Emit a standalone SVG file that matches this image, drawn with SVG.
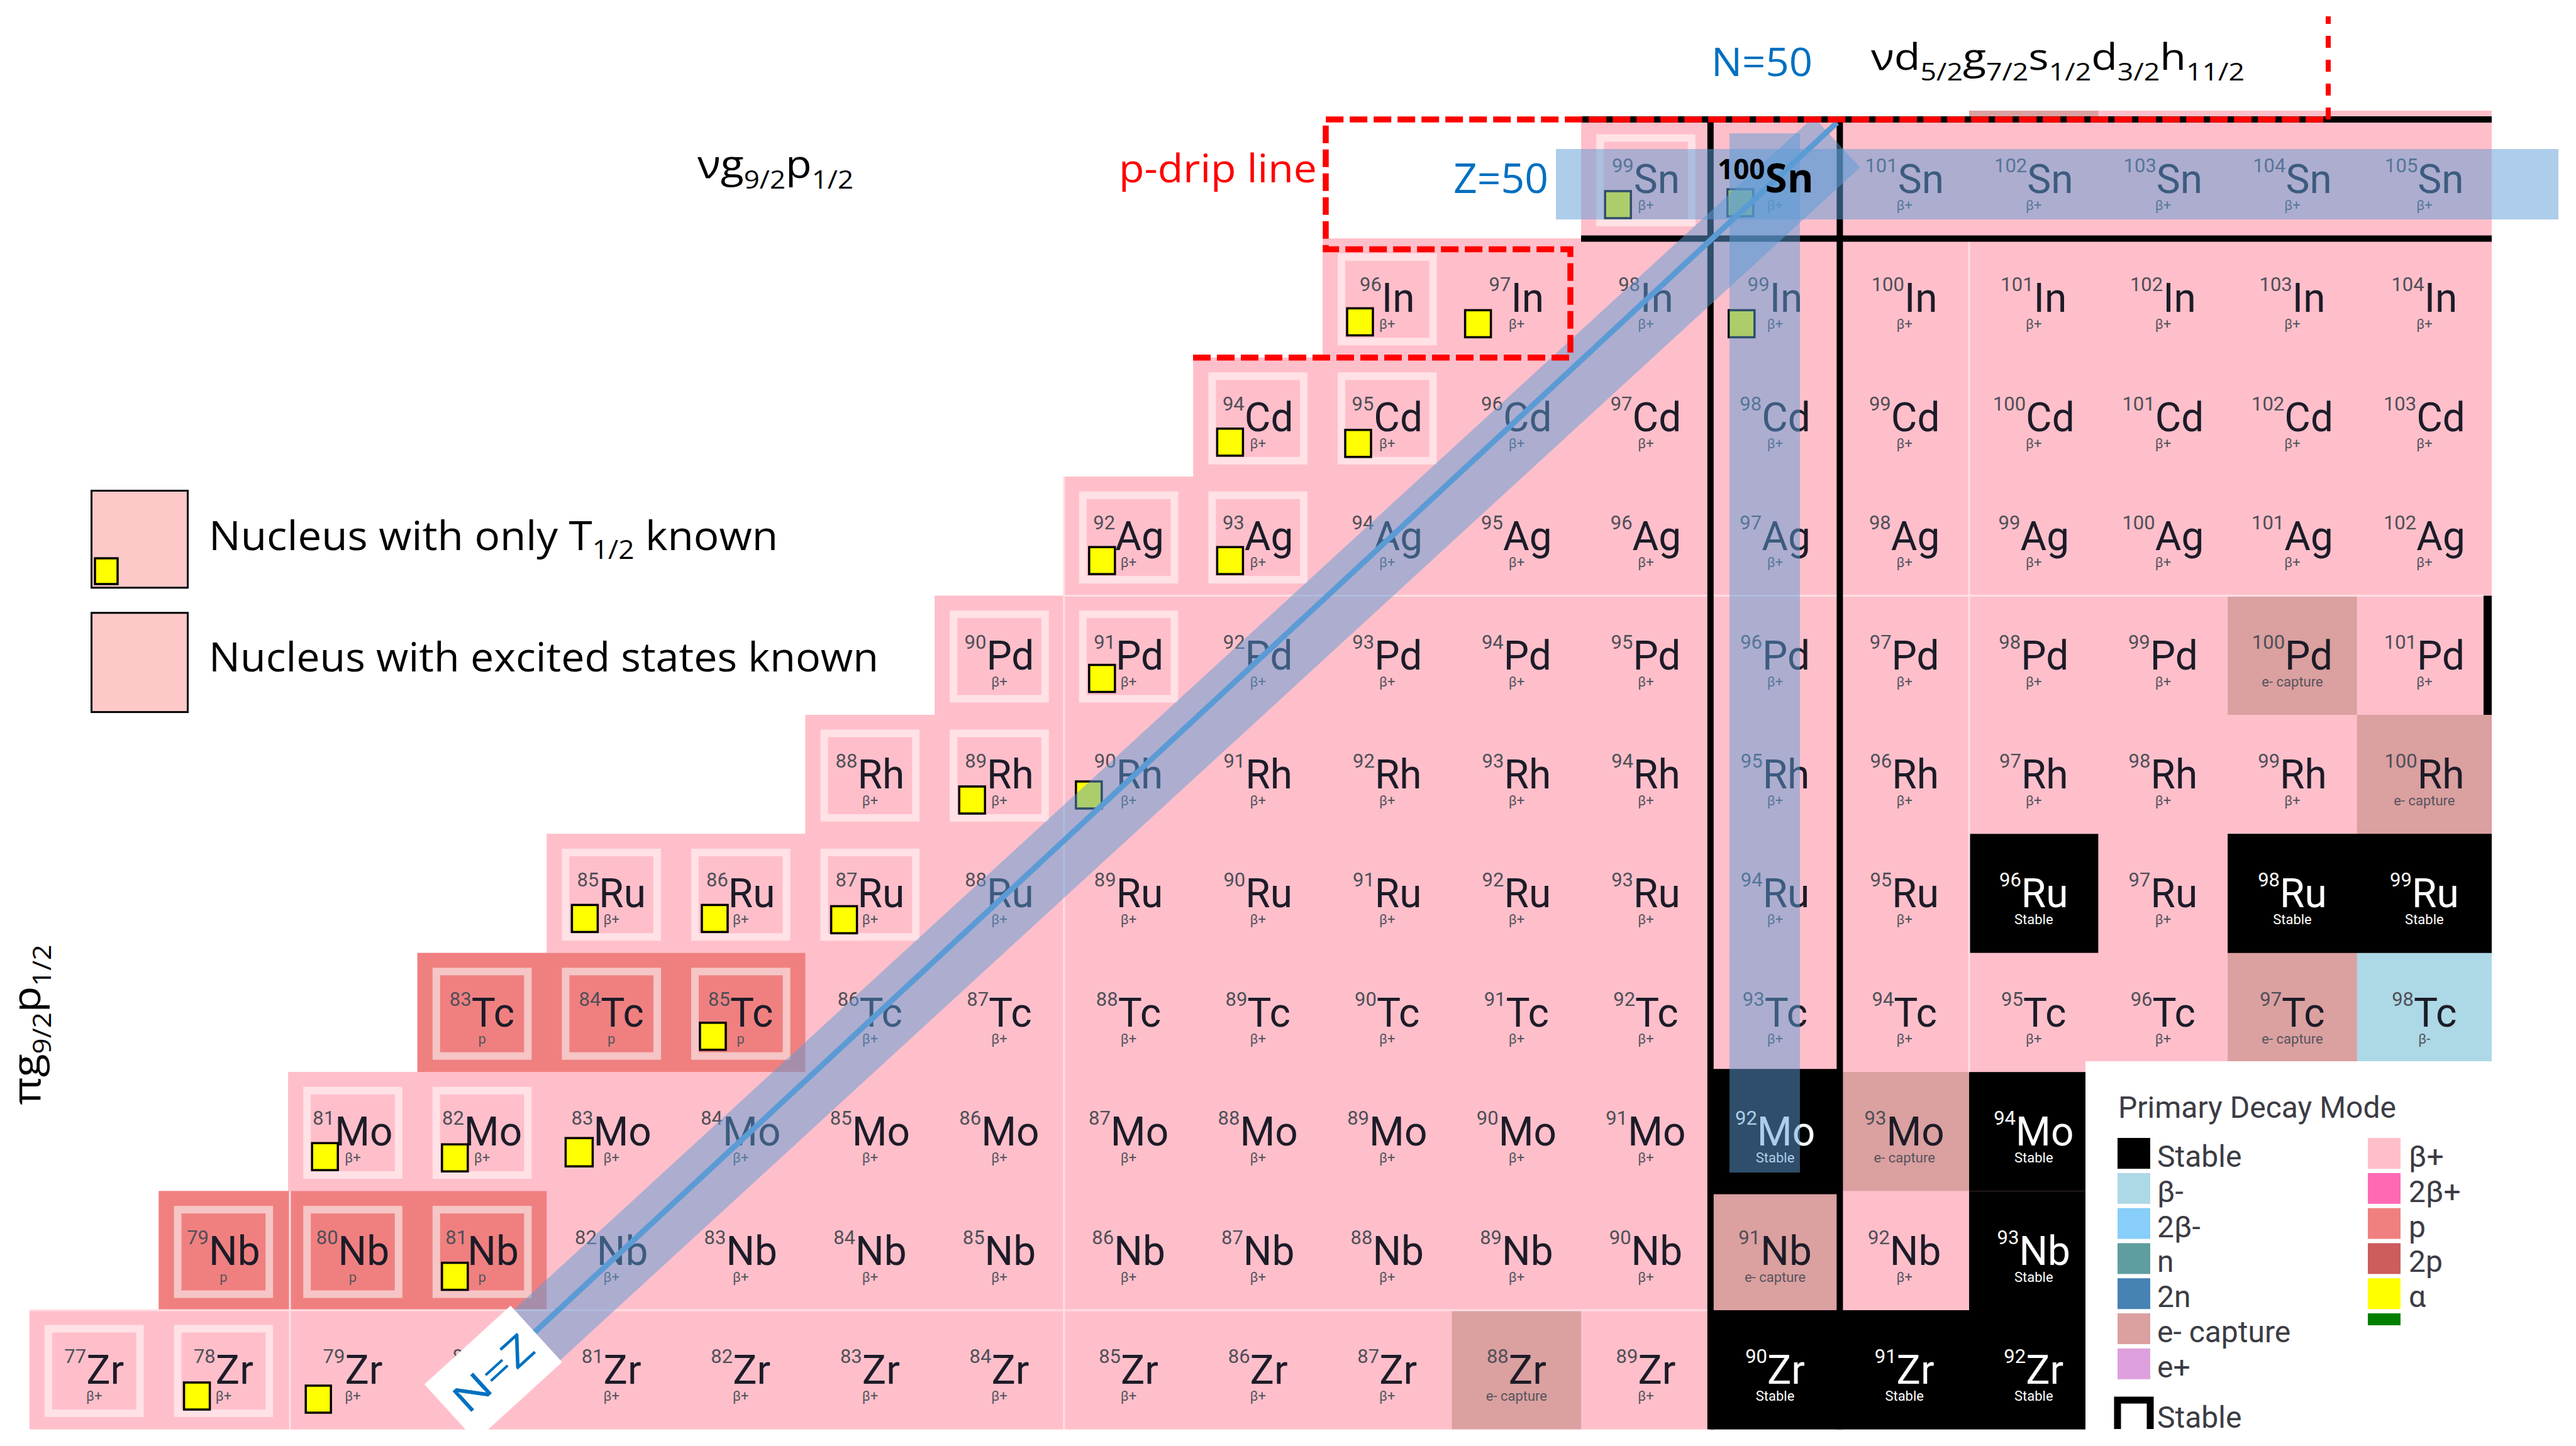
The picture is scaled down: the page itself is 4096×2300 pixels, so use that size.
<svg xmlns="http://www.w3.org/2000/svg" width="4096" height="2300" viewBox="0 0 4096 2300">
<style>
.r{fill:#ffbfca}.ec{fill:#dba0a0}.pp{fill:#f08080}.k{fill:#000}.bm{fill:#add8e6}
.rg{fill:none;stroke:#ffe1e6;stroke-width:12}.rp{fill:none;stroke:#f6c5c5;stroke-width:12}
.s{font-family:Roboto,"Liberation Sans",Arial,sans-serif;font-size:64px;fill:#1c1c28;text-anchor:middle}
.a{font-size:31px;fill:#4f4f58}
.d{font-family:Roboto,"Liberation Sans",Arial,sans-serif;font-size:22px;fill:#55555e;text-anchor:middle}
.w,.w .a{fill:#fff}
.mk{fill:#ff0;stroke:#000;stroke-width:3.5}
.band{fill:#5b9bd5;fill-opacity:.5}
.cal{font-family:"Open Sans","Noto Sans","Liberation Sans",sans-serif}
.seam{stroke:#ffdfe5;stroke-width:3;fill:none}
.bl{stroke:#000;stroke-width:10;fill:none}
.lg{font-family:Roboto,"Liberation Sans",Arial,sans-serif;font-size:48px;fill:#3c3c44}
</style>
<rect width="4096" height="2300" fill="#fff"/>
<g id="rows">
<rect class="r" x="2514.2" y="190" width="1447.8" height="189.8"/>
<rect class="r" x="2103" y="379.4" width="1859" height="189.8"/>
<rect class="r" x="1897.4" y="568.8" width="2064.6" height="189.8"/>
<rect class="r" x="1691.8" y="758.2" width="2270.2" height="189.8"/>
<rect class="r" x="1486.2" y="947.6" width="2475.8" height="189.8"/>
<rect class="r" x="1280.6" y="1137" width="2681.4" height="189.8"/>
<rect class="r" x="869.4" y="1326.4" width="3092.6" height="189.8"/>
<rect class="r" x="663.8" y="1515.8" width="3298.2" height="189.8"/>
<rect class="r" x="458.2" y="1705.2" width="3503.8" height="189.8"/>
<rect class="r" x="252.6" y="1894.6" width="3709.4" height="189.8"/>
<rect class="r" x="47" y="2084" width="3915" height="189.4"/>
<rect class="pp" x="663.8" y="1515.8" width="616.8" height="189.4"/>
<rect class="pp" x="252.6" y="1894.6" width="616.8" height="189.4"/>
<rect class="k" x="2719.8" y="2084" width="616.8" height="189.4"/>
<rect class="k" x="3542.2" y="1326.4" width="419.8" height="189.4"/>
</g>
<g id="cells">
<!-- Sn -->
<g id="Sn99" transform="translate(2514.2 190)"><rect class="r" width="205.6" height="189.4"/><rect class="rg" x="30" y="29.5" width="145.6" height="134.4"/><text class="s" x="102.8" y="117"><tspan class="a" dy="-33">99</tspan><tspan dy="33">Sn</tspan></text><text class="d" x="102.8" y="144">β+</text><rect class="mk" x="38" y="114" width="41" height="43"/></g>
<g id="Sn100" transform="translate(2719.8 190)"><rect class="r" width="205.6" height="189.4"/><text class="d" x="102.8" y="144">β+</text><rect class="mk" x="27" y="111" width="41" height="43"/></g>
<g id="Sn101" transform="translate(2925.4 190)"><rect class="r" width="205.6" height="189.4"/><text class="s" x="102.8" y="117"><tspan class="a" dy="-33">101</tspan><tspan dy="33">Sn</tspan></text><text class="d" x="102.8" y="144">β+</text></g>
<g id="Sn102" transform="translate(3131 190)"><rect class="r" width="205.6" height="189.4"/><text class="s" x="102.8" y="117"><tspan class="a" dy="-33">102</tspan><tspan dy="33">Sn</tspan></text><text class="d" x="102.8" y="144">β+</text></g>
<g id="Sn103" transform="translate(3336.6 190)"><rect class="r" width="205.6" height="189.4"/><text class="s" x="102.8" y="117"><tspan class="a" dy="-33">103</tspan><tspan dy="33">Sn</tspan></text><text class="d" x="102.8" y="144">β+</text></g>
<g id="Sn104" transform="translate(3542.2 190)"><rect class="r" width="205.6" height="189.4"/><text class="s" x="102.8" y="117"><tspan class="a" dy="-33">104</tspan><tspan dy="33">Sn</tspan></text><text class="d" x="102.8" y="144">β+</text></g>
<g id="Sn105" transform="translate(3747.8 190)"><rect class="r" width="214.2" height="189.4"/><text class="s" x="107.1" y="117"><tspan class="a" dy="-33">105</tspan><tspan dy="33">Sn</tspan></text><text class="d" x="107.1" y="144">β+</text></g>
<!-- In -->
<g id="In96" transform="translate(2103 379.4)"><rect class="r" width="205.6" height="189.4"/><rect class="rg" x="30" y="29.5" width="145.6" height="134.4"/><text class="s" x="102.8" y="117"><tspan class="a" dy="-33">96</tspan><tspan dy="33">In</tspan></text><text class="d" x="102.8" y="144">β+</text><rect class="mk" x="39" y="111" width="41" height="43"/></g>
<g id="In97" transform="translate(2308.6 379.4)"><rect class="r" width="205.6" height="189.4"/><text class="s" x="102.8" y="117"><tspan class="a" dy="-33">97</tspan><tspan dy="33">In</tspan></text><text class="d" x="102.8" y="144">β+</text><rect class="mk" x="21" y="114" width="41" height="43"/></g>
<g id="In98" transform="translate(2514.2 379.4)"><rect class="r" width="205.6" height="189.4"/><text class="s" x="102.8" y="117"><tspan class="a" dy="-33">98</tspan><tspan dy="33">In</tspan></text><text class="d" x="102.8" y="144">β+</text></g>
<g id="In99" transform="translate(2719.8 379.4)"><rect class="r" width="205.6" height="189.4"/><text class="s" x="102.8" y="117"><tspan class="a" dy="-33">99</tspan><tspan dy="33">In</tspan></text><text class="d" x="102.8" y="144">β+</text><rect class="mk" x="29" y="114" width="41" height="43"/></g>
<g id="In100" transform="translate(2925.4 379.4)"><rect class="r" width="205.6" height="189.4"/><text class="s" x="102.8" y="117"><tspan class="a" dy="-33">100</tspan><tspan dy="33">In</tspan></text><text class="d" x="102.8" y="144">β+</text></g>
<g id="In101" transform="translate(3131 379.4)"><rect class="r" width="205.6" height="189.4"/><text class="s" x="102.8" y="117"><tspan class="a" dy="-33">101</tspan><tspan dy="33">In</tspan></text><text class="d" x="102.8" y="144">β+</text></g>
<g id="In102" transform="translate(3336.6 379.4)"><rect class="r" width="205.6" height="189.4"/><text class="s" x="102.8" y="117"><tspan class="a" dy="-33">102</tspan><tspan dy="33">In</tspan></text><text class="d" x="102.8" y="144">β+</text></g>
<g id="In103" transform="translate(3542.2 379.4)"><rect class="r" width="205.6" height="189.4"/><text class="s" x="102.8" y="117"><tspan class="a" dy="-33">103</tspan><tspan dy="33">In</tspan></text><text class="d" x="102.8" y="144">β+</text></g>
<g id="In104" transform="translate(3747.8 379.4)"><rect class="r" width="214.2" height="189.4"/><text class="s" x="107.1" y="117"><tspan class="a" dy="-33">104</tspan><tspan dy="33">In</tspan></text><text class="d" x="107.1" y="144">β+</text></g>
<!-- Cd -->
<g id="Cd94" transform="translate(1897.4 568.8)"><rect class="r" width="205.6" height="189.4"/><rect class="rg" x="30" y="29.5" width="145.6" height="134.4"/><text class="s" x="102.8" y="117"><tspan class="a" dy="-33">94</tspan><tspan dy="33">Cd</tspan></text><text class="d" x="102.8" y="144">β+</text><rect class="mk" x="38" y="113" width="41" height="43"/></g>
<g id="Cd95" transform="translate(2103 568.8)"><rect class="r" width="205.6" height="189.4"/><rect class="rg" x="30" y="29.5" width="145.6" height="134.4"/><text class="s" x="102.8" y="117"><tspan class="a" dy="-33">95</tspan><tspan dy="33">Cd</tspan></text><text class="d" x="102.8" y="144">β+</text><rect class="mk" x="36" y="115" width="41" height="43"/></g>
<g id="Cd96" transform="translate(2308.6 568.8)"><rect class="r" width="205.6" height="189.4"/><text class="s" x="102.8" y="117"><tspan class="a" dy="-33">96</tspan><tspan dy="33">Cd</tspan></text><text class="d" x="102.8" y="144">β+</text></g>
<g id="Cd97" transform="translate(2514.2 568.8)"><rect class="r" width="205.6" height="189.4"/><text class="s" x="102.8" y="117"><tspan class="a" dy="-33">97</tspan><tspan dy="33">Cd</tspan></text><text class="d" x="102.8" y="144">β+</text></g>
<g id="Cd98" transform="translate(2719.8 568.8)"><rect class="r" width="205.6" height="189.4"/><text class="s" x="102.8" y="117"><tspan class="a" dy="-33">98</tspan><tspan dy="33">Cd</tspan></text><text class="d" x="102.8" y="144">β+</text></g>
<g id="Cd99" transform="translate(2925.4 568.8)"><rect class="r" width="205.6" height="189.4"/><text class="s" x="102.8" y="117"><tspan class="a" dy="-33">99</tspan><tspan dy="33">Cd</tspan></text><text class="d" x="102.8" y="144">β+</text></g>
<g id="Cd100" transform="translate(3131 568.8)"><rect class="r" width="205.6" height="189.4"/><text class="s" x="102.8" y="117"><tspan class="a" dy="-33">100</tspan><tspan dy="33">Cd</tspan></text><text class="d" x="102.8" y="144">β+</text></g>
<g id="Cd101" transform="translate(3336.6 568.8)"><rect class="r" width="205.6" height="189.4"/><text class="s" x="102.8" y="117"><tspan class="a" dy="-33">101</tspan><tspan dy="33">Cd</tspan></text><text class="d" x="102.8" y="144">β+</text></g>
<g id="Cd102" transform="translate(3542.2 568.8)"><rect class="r" width="205.6" height="189.4"/><text class="s" x="102.8" y="117"><tspan class="a" dy="-33">102</tspan><tspan dy="33">Cd</tspan></text><text class="d" x="102.8" y="144">β+</text></g>
<g id="Cd103" transform="translate(3747.8 568.8)"><rect class="r" width="214.2" height="189.4"/><text class="s" x="107.1" y="117"><tspan class="a" dy="-33">103</tspan><tspan dy="33">Cd</tspan></text><text class="d" x="107.1" y="144">β+</text></g>
<!-- Ag -->
<g id="Ag92" transform="translate(1691.8 758.2)"><rect class="r" width="205.6" height="189.4"/><rect class="rg" x="30" y="29.5" width="145.6" height="134.4"/><text class="s" x="102.8" y="117"><tspan class="a" dy="-33">92</tspan><tspan dy="33">Ag</tspan></text><text class="d" x="102.8" y="144">β+</text><rect class="mk" x="40" y="112" width="41" height="43"/></g>
<g id="Ag93" transform="translate(1897.4 758.2)"><rect class="r" width="205.6" height="189.4"/><rect class="rg" x="30" y="29.5" width="145.6" height="134.4"/><text class="s" x="102.8" y="117"><tspan class="a" dy="-33">93</tspan><tspan dy="33">Ag</tspan></text><text class="d" x="102.8" y="144">β+</text><rect class="mk" x="38" y="112" width="41" height="43"/></g>
<g id="Ag94" transform="translate(2103 758.2)"><rect class="r" width="205.6" height="189.4"/><text class="s" x="102.8" y="117"><tspan class="a" dy="-33">94</tspan><tspan dy="33">Ag</tspan></text><text class="d" x="102.8" y="144">β+</text></g>
<g id="Ag95" transform="translate(2308.6 758.2)"><rect class="r" width="205.6" height="189.4"/><text class="s" x="102.8" y="117"><tspan class="a" dy="-33">95</tspan><tspan dy="33">Ag</tspan></text><text class="d" x="102.8" y="144">β+</text></g>
<g id="Ag96" transform="translate(2514.2 758.2)"><rect class="r" width="205.6" height="189.4"/><text class="s" x="102.8" y="117"><tspan class="a" dy="-33">96</tspan><tspan dy="33">Ag</tspan></text><text class="d" x="102.8" y="144">β+</text></g>
<g id="Ag97" transform="translate(2719.8 758.2)"><rect class="r" width="205.6" height="189.4"/><text class="s" x="102.8" y="117"><tspan class="a" dy="-33">97</tspan><tspan dy="33">Ag</tspan></text><text class="d" x="102.8" y="144">β+</text></g>
<g id="Ag98" transform="translate(2925.4 758.2)"><rect class="r" width="205.6" height="189.4"/><text class="s" x="102.8" y="117"><tspan class="a" dy="-33">98</tspan><tspan dy="33">Ag</tspan></text><text class="d" x="102.8" y="144">β+</text></g>
<g id="Ag99" transform="translate(3131 758.2)"><rect class="r" width="205.6" height="189.4"/><text class="s" x="102.8" y="117"><tspan class="a" dy="-33">99</tspan><tspan dy="33">Ag</tspan></text><text class="d" x="102.8" y="144">β+</text></g>
<g id="Ag100" transform="translate(3336.6 758.2)"><rect class="r" width="205.6" height="189.4"/><text class="s" x="102.8" y="117"><tspan class="a" dy="-33">100</tspan><tspan dy="33">Ag</tspan></text><text class="d" x="102.8" y="144">β+</text></g>
<g id="Ag101" transform="translate(3542.2 758.2)"><rect class="r" width="205.6" height="189.4"/><text class="s" x="102.8" y="117"><tspan class="a" dy="-33">101</tspan><tspan dy="33">Ag</tspan></text><text class="d" x="102.8" y="144">β+</text></g>
<g id="Ag102" transform="translate(3747.8 758.2)"><rect class="r" width="214.2" height="189.4"/><text class="s" x="107.1" y="117"><tspan class="a" dy="-33">102</tspan><tspan dy="33">Ag</tspan></text><text class="d" x="107.1" y="144">β+</text></g>
<!-- Pd -->
<g id="Pd90" transform="translate(1486.2 947.6)"><rect class="r" width="205.6" height="189.4"/><rect class="rg" x="30" y="29.5" width="145.6" height="134.4"/><text class="s" x="102.8" y="117"><tspan class="a" dy="-33">90</tspan><tspan dy="33">Pd</tspan></text><text class="d" x="102.8" y="144">β+</text></g>
<g id="Pd91" transform="translate(1691.8 947.6)"><rect class="r" width="205.6" height="189.4"/><rect class="rg" x="30" y="29.5" width="145.6" height="134.4"/><text class="s" x="102.8" y="117"><tspan class="a" dy="-33">91</tspan><tspan dy="33">Pd</tspan></text><text class="d" x="102.8" y="144">β+</text><rect class="mk" x="40" y="110" width="41" height="43"/></g>
<g id="Pd92" transform="translate(1897.4 947.6)"><rect class="r" width="205.6" height="189.4"/><text class="s" x="102.8" y="117"><tspan class="a" dy="-33">92</tspan><tspan dy="33">Pd</tspan></text><text class="d" x="102.8" y="144">β+</text></g>
<g id="Pd93" transform="translate(2103 947.6)"><rect class="r" width="205.6" height="189.4"/><text class="s" x="102.8" y="117"><tspan class="a" dy="-33">93</tspan><tspan dy="33">Pd</tspan></text><text class="d" x="102.8" y="144">β+</text></g>
<g id="Pd94" transform="translate(2308.6 947.6)"><rect class="r" width="205.6" height="189.4"/><text class="s" x="102.8" y="117"><tspan class="a" dy="-33">94</tspan><tspan dy="33">Pd</tspan></text><text class="d" x="102.8" y="144">β+</text></g>
<g id="Pd95" transform="translate(2514.2 947.6)"><rect class="r" width="205.6" height="189.4"/><text class="s" x="102.8" y="117"><tspan class="a" dy="-33">95</tspan><tspan dy="33">Pd</tspan></text><text class="d" x="102.8" y="144">β+</text></g>
<g id="Pd96" transform="translate(2719.8 947.6)"><rect class="r" width="205.6" height="189.4"/><text class="s" x="102.8" y="117"><tspan class="a" dy="-33">96</tspan><tspan dy="33">Pd</tspan></text><text class="d" x="102.8" y="144">β+</text></g>
<g id="Pd97" transform="translate(2925.4 947.6)"><rect class="r" width="205.6" height="189.4"/><text class="s" x="102.8" y="117"><tspan class="a" dy="-33">97</tspan><tspan dy="33">Pd</tspan></text><text class="d" x="102.8" y="144">β+</text></g>
<g id="Pd98" transform="translate(3131 947.6)"><rect class="r" width="205.6" height="189.4"/><text class="s" x="102.8" y="117"><tspan class="a" dy="-33">98</tspan><tspan dy="33">Pd</tspan></text><text class="d" x="102.8" y="144">β+</text></g>
<g id="Pd99" transform="translate(3336.6 947.6)"><rect class="r" width="205.6" height="189.4"/><text class="s" x="102.8" y="117"><tspan class="a" dy="-33">99</tspan><tspan dy="33">Pd</tspan></text><text class="d" x="102.8" y="144">β+</text></g>
<g id="Pd100" transform="translate(3542.2 947.6)"><rect class="ec" width="205.6" height="189.4"/><text class="s" x="102.8" y="117"><tspan class="a" dy="-33">100</tspan><tspan dy="33">Pd</tspan></text><text class="d" x="102.8" y="144">e- capture</text></g>
<g id="Pd101" transform="translate(3747.8 947.6)"><rect class="r" width="214.2" height="189.4"/><text class="s" x="107.1" y="117"><tspan class="a" dy="-33">101</tspan><tspan dy="33">Pd</tspan></text><text class="d" x="107.1" y="144">β+</text></g>
<!-- Rh -->
<g id="Rh88" transform="translate(1280.6 1137)"><rect class="r" width="205.6" height="189.4"/><rect class="rg" x="30" y="29.5" width="145.6" height="134.4"/><text class="s" x="102.8" y="117"><tspan class="a" dy="-33">88</tspan><tspan dy="33">Rh</tspan></text><text class="d" x="102.8" y="144">β+</text></g>
<g id="Rh89" transform="translate(1486.2 1137)"><rect class="r" width="205.6" height="189.4"/><rect class="rg" x="30" y="29.5" width="145.6" height="134.4"/><text class="s" x="102.8" y="117"><tspan class="a" dy="-33">89</tspan><tspan dy="33">Rh</tspan></text><text class="d" x="102.8" y="144">β+</text><rect class="mk" x="39" y="114" width="41" height="43"/></g>
<g id="Rh90" transform="translate(1691.8 1137)"><rect class="r" width="205.6" height="189.4"/><text class="s" x="102.8" y="117"><tspan class="a" dy="-33">90</tspan><tspan dy="33">Rh</tspan></text><text class="d" x="102.8" y="144">β+</text><rect class="mk" x="19" y="106" width="41" height="43"/></g>
<g id="Rh91" transform="translate(1897.4 1137)"><rect class="r" width="205.6" height="189.4"/><text class="s" x="102.8" y="117"><tspan class="a" dy="-33">91</tspan><tspan dy="33">Rh</tspan></text><text class="d" x="102.8" y="144">β+</text></g>
<g id="Rh92" transform="translate(2103 1137)"><rect class="r" width="205.6" height="189.4"/><text class="s" x="102.8" y="117"><tspan class="a" dy="-33">92</tspan><tspan dy="33">Rh</tspan></text><text class="d" x="102.8" y="144">β+</text></g>
<g id="Rh93" transform="translate(2308.6 1137)"><rect class="r" width="205.6" height="189.4"/><text class="s" x="102.8" y="117"><tspan class="a" dy="-33">93</tspan><tspan dy="33">Rh</tspan></text><text class="d" x="102.8" y="144">β+</text></g>
<g id="Rh94" transform="translate(2514.2 1137)"><rect class="r" width="205.6" height="189.4"/><text class="s" x="102.8" y="117"><tspan class="a" dy="-33">94</tspan><tspan dy="33">Rh</tspan></text><text class="d" x="102.8" y="144">β+</text></g>
<g id="Rh95" transform="translate(2719.8 1137)"><rect class="r" width="205.6" height="189.4"/><text class="s" x="102.8" y="117"><tspan class="a" dy="-33">95</tspan><tspan dy="33">Rh</tspan></text><text class="d" x="102.8" y="144">β+</text></g>
<g id="Rh96" transform="translate(2925.4 1137)"><rect class="r" width="205.6" height="189.4"/><text class="s" x="102.8" y="117"><tspan class="a" dy="-33">96</tspan><tspan dy="33">Rh</tspan></text><text class="d" x="102.8" y="144">β+</text></g>
<g id="Rh97" transform="translate(3131 1137)"><rect class="r" width="205.6" height="189.4"/><text class="s" x="102.8" y="117"><tspan class="a" dy="-33">97</tspan><tspan dy="33">Rh</tspan></text><text class="d" x="102.8" y="144">β+</text></g>
<g id="Rh98" transform="translate(3336.6 1137)"><rect class="r" width="205.6" height="189.4"/><text class="s" x="102.8" y="117"><tspan class="a" dy="-33">98</tspan><tspan dy="33">Rh</tspan></text><text class="d" x="102.8" y="144">β+</text></g>
<g id="Rh99" transform="translate(3542.2 1137)"><rect class="r" width="205.6" height="189.4"/><text class="s" x="102.8" y="117"><tspan class="a" dy="-33">99</tspan><tspan dy="33">Rh</tspan></text><text class="d" x="102.8" y="144">β+</text></g>
<g id="Rh100" transform="translate(3747.8 1137)"><rect class="ec" width="214.2" height="189.4"/><text class="s" x="107.1" y="117"><tspan class="a" dy="-33">100</tspan><tspan dy="33">Rh</tspan></text><text class="d" x="107.1" y="144">e- capture</text></g>
<!-- Ru -->
<g id="Ru85" transform="translate(869.4 1326.4)"><rect class="r" width="205.6" height="189.4"/><rect class="rg" x="30" y="29.5" width="145.6" height="134.4"/><text class="s" x="102.8" y="117"><tspan class="a" dy="-33">85</tspan><tspan dy="33">Ru</tspan></text><text class="d" x="102.8" y="144">β+</text><rect class="mk" x="40" y="113" width="41" height="43"/></g>
<g id="Ru86" transform="translate(1075 1326.4)"><rect class="r" width="205.6" height="189.4"/><rect class="rg" x="30" y="29.5" width="145.6" height="134.4"/><text class="s" x="102.8" y="117"><tspan class="a" dy="-33">86</tspan><tspan dy="33">Ru</tspan></text><text class="d" x="102.8" y="144">β+</text><rect class="mk" x="41" y="113" width="41" height="43"/></g>
<g id="Ru87" transform="translate(1280.6 1326.4)"><rect class="r" width="205.6" height="189.4"/><rect class="rg" x="30" y="29.5" width="145.6" height="134.4"/><text class="s" x="102.8" y="117"><tspan class="a" dy="-33">87</tspan><tspan dy="33">Ru</tspan></text><text class="d" x="102.8" y="144">β+</text><rect class="mk" x="41" y="115" width="41" height="43"/></g>
<g id="Ru88" transform="translate(1486.2 1326.4)"><rect class="r" width="205.6" height="189.4"/><text class="s" x="102.8" y="117"><tspan class="a" dy="-33">88</tspan><tspan dy="33">Ru</tspan></text><text class="d" x="102.8" y="144">β+</text></g>
<g id="Ru89" transform="translate(1691.8 1326.4)"><rect class="r" width="205.6" height="189.4"/><text class="s" x="102.8" y="117"><tspan class="a" dy="-33">89</tspan><tspan dy="33">Ru</tspan></text><text class="d" x="102.8" y="144">β+</text></g>
<g id="Ru90" transform="translate(1897.4 1326.4)"><rect class="r" width="205.6" height="189.4"/><text class="s" x="102.8" y="117"><tspan class="a" dy="-33">90</tspan><tspan dy="33">Ru</tspan></text><text class="d" x="102.8" y="144">β+</text></g>
<g id="Ru91" transform="translate(2103 1326.4)"><rect class="r" width="205.6" height="189.4"/><text class="s" x="102.8" y="117"><tspan class="a" dy="-33">91</tspan><tspan dy="33">Ru</tspan></text><text class="d" x="102.8" y="144">β+</text></g>
<g id="Ru92" transform="translate(2308.6 1326.4)"><rect class="r" width="205.6" height="189.4"/><text class="s" x="102.8" y="117"><tspan class="a" dy="-33">92</tspan><tspan dy="33">Ru</tspan></text><text class="d" x="102.8" y="144">β+</text></g>
<g id="Ru93" transform="translate(2514.2 1326.4)"><rect class="r" width="205.6" height="189.4"/><text class="s" x="102.8" y="117"><tspan class="a" dy="-33">93</tspan><tspan dy="33">Ru</tspan></text><text class="d" x="102.8" y="144">β+</text></g>
<g id="Ru94" transform="translate(2719.8 1326.4)"><rect class="r" width="205.6" height="189.4"/><text class="s" x="102.8" y="117"><tspan class="a" dy="-33">94</tspan><tspan dy="33">Ru</tspan></text><text class="d" x="102.8" y="144">β+</text></g>
<g id="Ru95" transform="translate(2925.4 1326.4)"><rect class="r" width="205.6" height="189.4"/><text class="s" x="102.8" y="117"><tspan class="a" dy="-33">95</tspan><tspan dy="33">Ru</tspan></text><text class="d" x="102.8" y="144">β+</text></g>
<g id="Ru96" transform="translate(3131 1326.4)"><rect class="k" width="205.6" height="189.4"/><text class="s w" x="102.8" y="117"><tspan class="a" dy="-33">96</tspan><tspan dy="33">Ru</tspan></text><text class="d w" x="102.8" y="144">Stable</text></g>
<g id="Ru97" transform="translate(3336.6 1326.4)"><rect class="r" width="205.6" height="189.4"/><text class="s" x="102.8" y="117"><tspan class="a" dy="-33">97</tspan><tspan dy="33">Ru</tspan></text><text class="d" x="102.8" y="144">β+</text></g>
<g id="Ru98" transform="translate(3542.2 1326.4)"><rect class="k" width="205.6" height="189.4"/><text class="s w" x="102.8" y="117"><tspan class="a" dy="-33">98</tspan><tspan dy="33">Ru</tspan></text><text class="d w" x="102.8" y="144">Stable</text></g>
<g id="Ru99" transform="translate(3747.8 1326.4)"><rect class="k" width="214.2" height="189.4"/><text class="s w" x="107.1" y="117"><tspan class="a" dy="-33">99</tspan><tspan dy="33">Ru</tspan></text><text class="d w" x="107.1" y="144">Stable</text></g>
<!-- Tc -->
<g id="Tc83" transform="translate(663.8 1515.8)"><rect class="pp" width="205.6" height="189.4"/><rect class="rp" x="30" y="29.5" width="145.6" height="134.4"/><text class="s" x="102.8" y="117"><tspan class="a" dy="-33">83</tspan><tspan dy="33">Tc</tspan></text><text class="d" x="102.8" y="144">p</text></g>
<g id="Tc84" transform="translate(869.4 1515.8)"><rect class="pp" width="205.6" height="189.4"/><rect class="rp" x="30" y="29.5" width="145.6" height="134.4"/><text class="s" x="102.8" y="117"><tspan class="a" dy="-33">84</tspan><tspan dy="33">Tc</tspan></text><text class="d" x="102.8" y="144">p</text></g>
<g id="Tc85" transform="translate(1075 1515.8)"><rect class="pp" width="205.6" height="189.4"/><rect class="rp" x="30" y="29.5" width="145.6" height="134.4"/><text class="s" x="102.8" y="117"><tspan class="a" dy="-33">85</tspan><tspan dy="33">Tc</tspan></text><text class="d" x="102.8" y="144">p</text><rect class="mk" x="38" y="111" width="41" height="43"/></g>
<g id="Tc86" transform="translate(1280.6 1515.8)"><rect class="r" width="205.6" height="189.4"/><text class="s" x="102.8" y="117"><tspan class="a" dy="-33">86</tspan><tspan dy="33">Tc</tspan></text><text class="d" x="102.8" y="144">β+</text></g>
<g id="Tc87" transform="translate(1486.2 1515.8)"><rect class="r" width="205.6" height="189.4"/><text class="s" x="102.8" y="117"><tspan class="a" dy="-33">87</tspan><tspan dy="33">Tc</tspan></text><text class="d" x="102.8" y="144">β+</text></g>
<g id="Tc88" transform="translate(1691.8 1515.8)"><rect class="r" width="205.6" height="189.4"/><text class="s" x="102.8" y="117"><tspan class="a" dy="-33">88</tspan><tspan dy="33">Tc</tspan></text><text class="d" x="102.8" y="144">β+</text></g>
<g id="Tc89" transform="translate(1897.4 1515.8)"><rect class="r" width="205.6" height="189.4"/><text class="s" x="102.8" y="117"><tspan class="a" dy="-33">89</tspan><tspan dy="33">Tc</tspan></text><text class="d" x="102.8" y="144">β+</text></g>
<g id="Tc90" transform="translate(2103 1515.8)"><rect class="r" width="205.6" height="189.4"/><text class="s" x="102.8" y="117"><tspan class="a" dy="-33">90</tspan><tspan dy="33">Tc</tspan></text><text class="d" x="102.8" y="144">β+</text></g>
<g id="Tc91" transform="translate(2308.6 1515.8)"><rect class="r" width="205.6" height="189.4"/><text class="s" x="102.8" y="117"><tspan class="a" dy="-33">91</tspan><tspan dy="33">Tc</tspan></text><text class="d" x="102.8" y="144">β+</text></g>
<g id="Tc92" transform="translate(2514.2 1515.8)"><rect class="r" width="205.6" height="189.4"/><text class="s" x="102.8" y="117"><tspan class="a" dy="-33">92</tspan><tspan dy="33">Tc</tspan></text><text class="d" x="102.8" y="144">β+</text></g>
<g id="Tc93" transform="translate(2719.8 1515.8)"><rect class="r" width="205.6" height="189.4"/><text class="s" x="102.8" y="117"><tspan class="a" dy="-33">93</tspan><tspan dy="33">Tc</tspan></text><text class="d" x="102.8" y="144">β+</text></g>
<g id="Tc94" transform="translate(2925.4 1515.8)"><rect class="r" width="205.6" height="189.4"/><text class="s" x="102.8" y="117"><tspan class="a" dy="-33">94</tspan><tspan dy="33">Tc</tspan></text><text class="d" x="102.8" y="144">β+</text></g>
<g id="Tc95" transform="translate(3131 1515.8)"><rect class="r" width="205.6" height="189.4"/><text class="s" x="102.8" y="117"><tspan class="a" dy="-33">95</tspan><tspan dy="33">Tc</tspan></text><text class="d" x="102.8" y="144">β+</text></g>
<g id="Tc96" transform="translate(3336.6 1515.8)"><rect class="r" width="205.6" height="189.4"/><text class="s" x="102.8" y="117"><tspan class="a" dy="-33">96</tspan><tspan dy="33">Tc</tspan></text><text class="d" x="102.8" y="144">β+</text></g>
<g id="Tc97" transform="translate(3542.2 1515.8)"><rect class="ec" width="205.6" height="189.4"/><text class="s" x="102.8" y="117"><tspan class="a" dy="-33">97</tspan><tspan dy="33">Tc</tspan></text><text class="d" x="102.8" y="144">e- capture</text></g>
<g id="Tc98" transform="translate(3747.8 1515.8)"><rect class="bm" width="214.2" height="189.4"/><text class="s" x="107.1" y="117"><tspan class="a" dy="-33">98</tspan><tspan dy="33">Tc</tspan></text><text class="d" x="107.1" y="144">β-</text></g>
<!-- Mo -->
<g id="Mo81" transform="translate(458.2 1705.2)"><rect class="r" width="205.6" height="189.4"/><rect class="rg" x="30" y="29.5" width="145.6" height="134.4"/><text class="s" x="102.8" y="117"><tspan class="a" dy="-33">81</tspan><tspan dy="33">Mo</tspan></text><text class="d" x="102.8" y="144">β+</text><rect class="mk" x="38" y="113" width="41" height="43"/></g>
<g id="Mo82" transform="translate(663.8 1705.2)"><rect class="r" width="205.6" height="189.4"/><rect class="rg" x="30" y="29.5" width="145.6" height="134.4"/><text class="s" x="102.8" y="117"><tspan class="a" dy="-33">82</tspan><tspan dy="33">Mo</tspan></text><text class="d" x="102.8" y="144">β+</text><rect class="mk" x="39" y="115" width="41" height="43"/></g>
<g id="Mo83" transform="translate(869.4 1705.2)"><rect class="r" width="205.6" height="189.4"/><text class="s" x="102.8" y="117"><tspan class="a" dy="-33">83</tspan><tspan dy="33">Mo</tspan></text><text class="d" x="102.8" y="144">β+</text><rect class="mk" x="30" y="105" width="43" height="45"/></g>
<g id="Mo84" transform="translate(1075 1705.2)"><rect class="r" width="205.6" height="189.4"/><text class="s" x="102.8" y="117"><tspan class="a" dy="-33">84</tspan><tspan dy="33">Mo</tspan></text><text class="d" x="102.8" y="144">β+</text></g>
<g id="Mo85" transform="translate(1280.6 1705.2)"><rect class="r" width="205.6" height="189.4"/><text class="s" x="102.8" y="117"><tspan class="a" dy="-33">85</tspan><tspan dy="33">Mo</tspan></text><text class="d" x="102.8" y="144">β+</text></g>
<g id="Mo86" transform="translate(1486.2 1705.2)"><rect class="r" width="205.6" height="189.4"/><text class="s" x="102.8" y="117"><tspan class="a" dy="-33">86</tspan><tspan dy="33">Mo</tspan></text><text class="d" x="102.8" y="144">β+</text></g>
<g id="Mo87" transform="translate(1691.8 1705.2)"><rect class="r" width="205.6" height="189.4"/><text class="s" x="102.8" y="117"><tspan class="a" dy="-33">87</tspan><tspan dy="33">Mo</tspan></text><text class="d" x="102.8" y="144">β+</text></g>
<g id="Mo88" transform="translate(1897.4 1705.2)"><rect class="r" width="205.6" height="189.4"/><text class="s" x="102.8" y="117"><tspan class="a" dy="-33">88</tspan><tspan dy="33">Mo</tspan></text><text class="d" x="102.8" y="144">β+</text></g>
<g id="Mo89" transform="translate(2103 1705.2)"><rect class="r" width="205.6" height="189.4"/><text class="s" x="102.8" y="117"><tspan class="a" dy="-33">89</tspan><tspan dy="33">Mo</tspan></text><text class="d" x="102.8" y="144">β+</text></g>
<g id="Mo90" transform="translate(2308.6 1705.2)"><rect class="r" width="205.6" height="189.4"/><text class="s" x="102.8" y="117"><tspan class="a" dy="-33">90</tspan><tspan dy="33">Mo</tspan></text><text class="d" x="102.8" y="144">β+</text></g>
<g id="Mo91" transform="translate(2514.2 1705.2)"><rect class="r" width="205.6" height="189.4"/><text class="s" x="102.8" y="117"><tspan class="a" dy="-33">91</tspan><tspan dy="33">Mo</tspan></text><text class="d" x="102.8" y="144">β+</text></g>
<g id="Mo92" transform="translate(2719.8 1705.2)"><rect class="k" width="205.6" height="189.4"/><text class="s w" x="102.8" y="117"><tspan class="a" dy="-33">92</tspan><tspan dy="33">Mo</tspan></text><text class="d w" x="102.8" y="144">Stable</text></g>
<g id="Mo93" transform="translate(2925.4 1705.2)"><rect class="ec" width="205.6" height="189.4"/><text class="s" x="102.8" y="117"><tspan class="a" dy="-33">93</tspan><tspan dy="33">Mo</tspan></text><text class="d" x="102.8" y="144">e- capture</text></g>
<g id="Mo94" transform="translate(3131 1705.2)"><rect class="k" width="205.6" height="189.4"/><text class="s w" x="102.8" y="117"><tspan class="a" dy="-33">94</tspan><tspan dy="33">Mo</tspan></text><text class="d w" x="102.8" y="144">Stable</text></g>
<!-- Nb -->
<g id="Nb79" transform="translate(252.6 1894.6)"><rect class="pp" width="205.6" height="189.4"/><rect class="rp" x="30" y="29.5" width="145.6" height="134.4"/><text class="s" x="102.8" y="117"><tspan class="a" dy="-33">79</tspan><tspan dy="33">Nb</tspan></text><text class="d" x="102.8" y="144">p</text></g>
<g id="Nb80" transform="translate(458.2 1894.6)"><rect class="pp" width="205.6" height="189.4"/><rect class="rp" x="30" y="29.5" width="145.6" height="134.4"/><text class="s" x="102.8" y="117"><tspan class="a" dy="-33">80</tspan><tspan dy="33">Nb</tspan></text><text class="d" x="102.8" y="144">p</text></g>
<g id="Nb81" transform="translate(663.8 1894.6)"><rect class="pp" width="205.6" height="189.4"/><rect class="rp" x="30" y="29.5" width="145.6" height="134.4"/><text class="s" x="102.8" y="117"><tspan class="a" dy="-33">81</tspan><tspan dy="33">Nb</tspan></text><text class="d" x="102.8" y="144">p</text><rect class="mk" x="39" y="114" width="41" height="43"/></g>
<g id="Nb82" transform="translate(869.4 1894.6)"><rect class="r" width="205.6" height="189.4"/><text class="s" x="102.8" y="117"><tspan class="a" dy="-33">82</tspan><tspan dy="33">Nb</tspan></text><text class="d" x="102.8" y="144">β+</text></g>
<g id="Nb83" transform="translate(1075 1894.6)"><rect class="r" width="205.6" height="189.4"/><text class="s" x="102.8" y="117"><tspan class="a" dy="-33">83</tspan><tspan dy="33">Nb</tspan></text><text class="d" x="102.8" y="144">β+</text></g>
<g id="Nb84" transform="translate(1280.6 1894.6)"><rect class="r" width="205.6" height="189.4"/><text class="s" x="102.8" y="117"><tspan class="a" dy="-33">84</tspan><tspan dy="33">Nb</tspan></text><text class="d" x="102.8" y="144">β+</text></g>
<g id="Nb85" transform="translate(1486.2 1894.6)"><rect class="r" width="205.6" height="189.4"/><text class="s" x="102.8" y="117"><tspan class="a" dy="-33">85</tspan><tspan dy="33">Nb</tspan></text><text class="d" x="102.8" y="144">β+</text></g>
<g id="Nb86" transform="translate(1691.8 1894.6)"><rect class="r" width="205.6" height="189.4"/><text class="s" x="102.8" y="117"><tspan class="a" dy="-33">86</tspan><tspan dy="33">Nb</tspan></text><text class="d" x="102.8" y="144">β+</text></g>
<g id="Nb87" transform="translate(1897.4 1894.6)"><rect class="r" width="205.6" height="189.4"/><text class="s" x="102.8" y="117"><tspan class="a" dy="-33">87</tspan><tspan dy="33">Nb</tspan></text><text class="d" x="102.8" y="144">β+</text></g>
<g id="Nb88" transform="translate(2103 1894.6)"><rect class="r" width="205.6" height="189.4"/><text class="s" x="102.8" y="117"><tspan class="a" dy="-33">88</tspan><tspan dy="33">Nb</tspan></text><text class="d" x="102.8" y="144">β+</text></g>
<g id="Nb89" transform="translate(2308.6 1894.6)"><rect class="r" width="205.6" height="189.4"/><text class="s" x="102.8" y="117"><tspan class="a" dy="-33">89</tspan><tspan dy="33">Nb</tspan></text><text class="d" x="102.8" y="144">β+</text></g>
<g id="Nb90" transform="translate(2514.2 1894.6)"><rect class="r" width="205.6" height="189.4"/><text class="s" x="102.8" y="117"><tspan class="a" dy="-33">90</tspan><tspan dy="33">Nb</tspan></text><text class="d" x="102.8" y="144">β+</text></g>
<g id="Nb91" transform="translate(2719.8 1894.6)"><rect class="ec" width="205.6" height="189.4"/><text class="s" x="102.8" y="117"><tspan class="a" dy="-33">91</tspan><tspan dy="33">Nb</tspan></text><text class="d" x="102.8" y="144">e- capture</text></g>
<g id="Nb92" transform="translate(2925.4 1894.6)"><rect class="r" width="205.6" height="189.4"/><text class="s" x="102.8" y="117"><tspan class="a" dy="-33">92</tspan><tspan dy="33">Nb</tspan></text><text class="d" x="102.8" y="144">β+</text></g>
<g id="Nb93" transform="translate(3131 1894.6)"><rect class="k" width="205.6" height="189.4"/><text class="s w" x="102.8" y="117"><tspan class="a" dy="-33">93</tspan><tspan dy="33">Nb</tspan></text><text class="d w" x="102.8" y="144">Stable</text></g>
<!-- Zr -->
<g id="Zr77" transform="translate(47 2084)"><rect class="r" width="205.6" height="189.4"/><rect class="rg" x="30" y="29.5" width="145.6" height="134.4"/><text class="s" x="102.8" y="117"><tspan class="a" dy="-33">77</tspan><tspan dy="33">Zr</tspan></text><text class="d" x="102.8" y="144">β+</text></g>
<g id="Zr78" transform="translate(252.6 2084)"><rect class="r" width="205.6" height="189.4"/><rect class="rg" x="30" y="29.5" width="145.6" height="134.4"/><text class="s" x="102.8" y="117"><tspan class="a" dy="-33">78</tspan><tspan dy="33">Zr</tspan></text><text class="d" x="102.8" y="144">β+</text><rect class="mk" x="40" y="115" width="41" height="43"/></g>
<g id="Zr79" transform="translate(458.2 2084)"><rect class="r" width="205.6" height="189.4"/><text class="s" x="102.8" y="117"><tspan class="a" dy="-33">79</tspan><tspan dy="33">Zr</tspan></text><text class="d" x="102.8" y="144">β+</text><rect class="mk" x="28" y="120" width="40" height="43"/></g>
<g id="Zr80" transform="translate(663.8 2084)"><rect class="r" width="205.6" height="189.4"/><text class="s" x="102.8" y="117"><tspan class="a" dy="-33">80</tspan><tspan dy="33">Zr</tspan></text><text class="d" x="102.8" y="144">β+</text></g>
<g id="Zr81" transform="translate(869.4 2084)"><rect class="r" width="205.6" height="189.4"/><text class="s" x="102.8" y="117"><tspan class="a" dy="-33">81</tspan><tspan dy="33">Zr</tspan></text><text class="d" x="102.8" y="144">β+</text></g>
<g id="Zr82" transform="translate(1075 2084)"><rect class="r" width="205.6" height="189.4"/><text class="s" x="102.8" y="117"><tspan class="a" dy="-33">82</tspan><tspan dy="33">Zr</tspan></text><text class="d" x="102.8" y="144">β+</text></g>
<g id="Zr83" transform="translate(1280.6 2084)"><rect class="r" width="205.6" height="189.4"/><text class="s" x="102.8" y="117"><tspan class="a" dy="-33">83</tspan><tspan dy="33">Zr</tspan></text><text class="d" x="102.8" y="144">β+</text></g>
<g id="Zr84" transform="translate(1486.2 2084)"><rect class="r" width="205.6" height="189.4"/><text class="s" x="102.8" y="117"><tspan class="a" dy="-33">84</tspan><tspan dy="33">Zr</tspan></text><text class="d" x="102.8" y="144">β+</text></g>
<g id="Zr85" transform="translate(1691.8 2084)"><rect class="r" width="205.6" height="189.4"/><text class="s" x="102.8" y="117"><tspan class="a" dy="-33">85</tspan><tspan dy="33">Zr</tspan></text><text class="d" x="102.8" y="144">β+</text></g>
<g id="Zr86" transform="translate(1897.4 2084)"><rect class="r" width="205.6" height="189.4"/><text class="s" x="102.8" y="117"><tspan class="a" dy="-33">86</tspan><tspan dy="33">Zr</tspan></text><text class="d" x="102.8" y="144">β+</text></g>
<g id="Zr87" transform="translate(2103 2084)"><rect class="r" width="205.6" height="189.4"/><text class="s" x="102.8" y="117"><tspan class="a" dy="-33">87</tspan><tspan dy="33">Zr</tspan></text><text class="d" x="102.8" y="144">β+</text></g>
<g id="Zr88" transform="translate(2308.6 2084)"><rect class="ec" width="205.6" height="189.4"/><text class="s" x="102.8" y="117"><tspan class="a" dy="-33">88</tspan><tspan dy="33">Zr</tspan></text><text class="d" x="102.8" y="144">e- capture</text></g>
<g id="Zr89" transform="translate(2514.2 2084)"><rect class="r" width="205.6" height="189.4"/><text class="s" x="102.8" y="117"><tspan class="a" dy="-33">89</tspan><tspan dy="33">Zr</tspan></text><text class="d" x="102.8" y="144">β+</text></g>
<g id="Zr90" transform="translate(2719.8 2084)"><rect class="k" width="205.6" height="189.4"/><text class="s w" x="102.8" y="117"><tspan class="a" dy="-33">90</tspan><tspan dy="33">Zr</tspan></text><text class="d w" x="102.8" y="144">Stable</text></g>
<g id="Zr91" transform="translate(2925.4 2084)"><rect class="k" width="205.6" height="189.4"/><text class="s w" x="102.8" y="117"><tspan class="a" dy="-33">91</tspan><tspan dy="33">Zr</tspan></text><text class="d w" x="102.8" y="144">Stable</text></g>
<g id="Zr92" transform="translate(3131 2084)"><rect class="k" width="205.6" height="189.4"/><text class="s w" x="102.8" y="117"><tspan class="a" dy="-33">92</tspan><tspan dy="33">Zr</tspan></text><text class="d w" x="102.8" y="144">Stable</text></g>
</g>
<g id="seams">
<path class="seam" d="M461 1894.6V2273.4M1691.8 758.2V2273.4M3131 379.4V1705.2M1691.8 947.6H3949M47 2084H2719.8"/>
</g>
<g id="edge-strip">
<rect class="r" x="3131" y="176" width="831" height="14"/>
<rect class="ec" x="3131" y="176" width="205.6" height="14"/>
</g>
<g id="connectors">
<path class="bl" d="M2514 190H3962M2514 379.4H3962M2719.8 185V2273.4M2925.4 185V2273.4M2719.8 1705.2H2925.4M2719.8 1894.6H2925.4"/>
<rect x="3949" y="947.6" width="13" height="189.4" fill="#000"/>
<rect class="band" x="2474" y="237" width="1594" height="112"/>
<rect class="band" x="2750" y="212" width="112" height="1653"/>
<polygon class="band" points="2883.8,185.9 2957.6,266.3 822.9,2225.9 749.1,2145.5"/>
<line x1="780" y1="2184" x2="2921" y2="195" stroke="#5b9bd5" stroke-width="9"/>
<path d="M1897 568.8H2497V396.6H2108V190H3702" fill="none" stroke="#f00" stroke-width="9.5" stroke-dasharray="28 10"/>
<path d="M3702 190V26" fill="none" stroke="#f00" stroke-width="8" stroke-dasharray="19 19"/>
</g>
<g id="Sn100-label">
<text class="cal" x="2731" y="306" font-weight="700" fill="#000"><tspan font-size="44" dy="-21">100</tspan><tspan font-size="64" dy="21">Sn</tspan></text>
</g>
<g id="NZ-label" transform="translate(784.3 2184.2) rotate(-42.4)">
<rect x="-92.9" y="-60.7" width="185.7" height="121.4" fill="#fff"/>
<text class="cal" x="0" y="22" font-size="62" fill="#0070c0" text-anchor="middle" textLength="150" lengthAdjust="spacingAndGlyphs">N=Z</text>
</g>
<g id="legend-decay">
<rect x="3316" y="1688" width="780" height="612" fill="#fff"/>
<text class="lg" x="3368" y="1778" font-size="47" fill="#4a4a52">Primary Decay Mode</text>
<rect x="3367" y="1810" width="52" height="49" fill="#000"/>
<rect x="3367" y="1865.8" width="52" height="49" fill="#add8e6"/>
<rect x="3367" y="1921.6" width="52" height="49" fill="#87cefa"/>
<rect x="3367" y="1977.4" width="52" height="49" fill="#5f9ea0"/>
<rect x="3367" y="2033.2" width="52" height="49" fill="#4682b4"/>
<rect x="3367" y="2089" width="52" height="49" fill="#dba0a0"/>
<rect x="3367" y="2144.8" width="52" height="49" fill="#dda0dd"/>
<text class="lg" x="3430" y="1856">Stable</text>
<text class="lg" x="3430" y="1911.8">β-</text>
<text class="lg" x="3430" y="1967.6">2β-</text>
<text class="lg" x="3430" y="2023.4">n</text>
<text class="lg" x="3430" y="2079.2">2n</text>
<text class="lg" x="3430" y="2135">e- capture</text>
<text class="lg" x="3430" y="2190.8">e+</text>
<rect x="3765" y="1810" width="52" height="49" fill="#ffbfca"/>
<rect x="3765" y="1865.8" width="52" height="49" fill="#ff69b4"/>
<rect x="3765" y="1921.6" width="52" height="49" fill="#f08080"/>
<rect x="3765" y="1977.4" width="52" height="49" fill="#cd5c5c"/>
<rect x="3765" y="2033.2" width="52" height="49" fill="#ff0"/>
<rect x="3765" y="2089" width="52" height="19" fill="#008000"/>
<text class="lg" x="3830" y="1856">β+</text>
<text class="lg" x="3830" y="1911.8">2β+</text>
<text class="lg" x="3830" y="1967.6">p</text>
<text class="lg" x="3830" y="2023.4">2p</text>
<text class="lg" x="3830" y="2079.2">α</text>
<rect x="3367" y="2227" width="52" height="52" fill="#fff" stroke="#000" stroke-width="11"/>
<text class="lg" x="3430" y="2271">Stable</text>
<rect x="3316" y="2273" width="780" height="27" fill="#fff"/>
</g>
<g id="legend-nuclei" class="cal">
<rect x="145.5" y="780.5" width="153" height="154.3" fill="#fdc8c8" stroke="#000" stroke-width="3"/>
<rect class="mk" x="151" y="888" width="36" height="41"/>
<text x="332" y="875" font-size="64" textLength="905" lengthAdjust="spacingAndGlyphs">Nucleus with only T<tspan font-size="42" dy="14">1/2</tspan><tspan dy="-14"> known</tspan></text>
<rect x="145.5" y="974.8" width="153" height="157.8" fill="#fdc8c8" stroke="#000" stroke-width="3"/>
<text x="332" y="1068" font-size="64" textLength="1065" lengthAdjust="spacingAndGlyphs">Nucleus with excited states known</text>
</g>
<g id="labels" class="cal">
<text x="2311" y="307" font-size="66" fill="#0070c0">Z=50</text>
<text x="2721" y="121" font-size="62" fill="#0070c0" textLength="161" lengthAdjust="spacingAndGlyphs">N=50</text>
<text x="1779" y="290" font-size="62" fill="#f00" textLength="315" lengthAdjust="spacingAndGlyphs">p-drip line</text>
<text x="2975" y="111" font-size="58" fill="#000" textLength="594" lengthAdjust="spacingAndGlyphs">νd<tspan font-size="38" dy="17">5/2</tspan><tspan dy="-17">g</tspan><tspan font-size="38" dy="17">7/2</tspan><tspan dy="-17">s</tspan><tspan font-size="38" dy="17">1/2</tspan><tspan dy="-17">d</tspan><tspan font-size="38" dy="17">3/2</tspan><tspan dy="-17">h</tspan><tspan font-size="38" dy="17">11/2</tspan></text>
<text x="1109" y="283" font-size="62" fill="#000" textLength="248" lengthAdjust="spacingAndGlyphs">νg<tspan font-size="40" dy="17">9/2</tspan><tspan dy="-17">p</tspan><tspan font-size="40" dy="17">1/2</tspan></text>
<text transform="translate(63.5 1757.5) rotate(-90)" x="0" y="0" font-size="62" fill="#000" textLength="255" lengthAdjust="spacingAndGlyphs">πg<tspan font-size="40" dy="17">9/2</tspan><tspan dy="-17">p</tspan><tspan font-size="40" dy="17">1/2</tspan></text>
</g>
</svg>
